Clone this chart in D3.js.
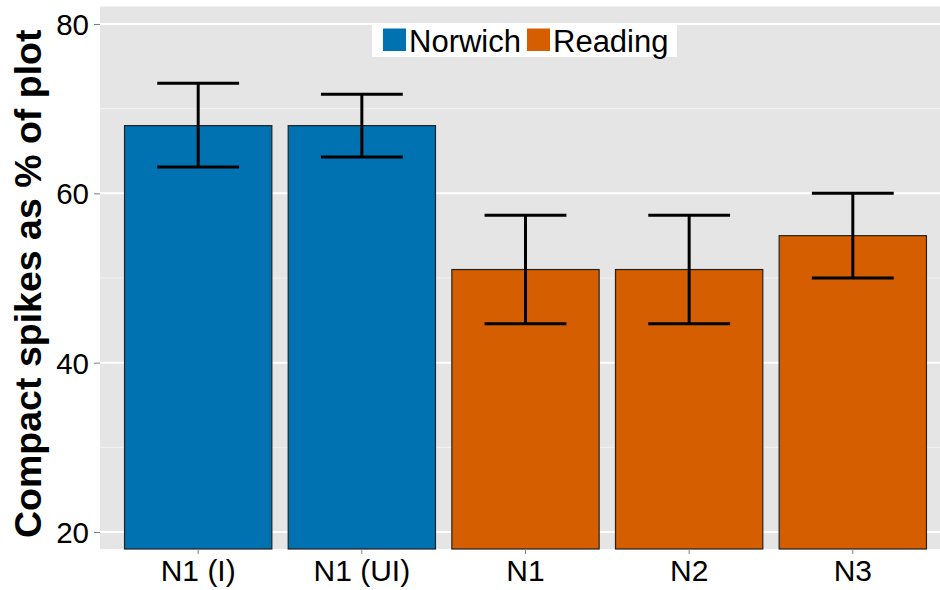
<!DOCTYPE html>
<html>
<head>
<meta charset="utf-8">
<script src="https://cdn.jsdelivr.net/npm/d3@7"></script>
<style>
  body { margin: 0; background: #fff; }
  text { font-family: "Liberation Sans", Arial, sans-serif; }
</style>
</head>
<body>
<div id="chart"></div>
<script>
// chart data
const categories = ["N1 (I)", "N1 (UI)", "N1", "N2", "N3"];
const sites = ["Norwich", "Norwich", "Reading", "Reading", "Reading"];
const values = [68, 68, 51, 51, 55];
const lower = [63.1, 64.3, 44.6, 44.6, 50];
const upper = [73.0, 71.7, 57.4, 57.4, 60];
const yTicks = [20, 40, 60, 80];
const yMinor = [30, 50, 70];
const legendKeys = ["Norwich", "Reading"];

const colors = {Norwich: "#0072B2", Reading: "#D55E00"};

const width = 940, height = 590;
const panel = {left: 100, top: 6.5, right: 951, bottom: 549};

const svg = d3.select("#chart").append("svg")
    .attr("width", width)
    .attr("height", height);

// scales
const x = d3.scaleBand()
    .domain(categories)
    .range([panel.left, panel.right])
    .paddingInner(0.1)
    .paddingOuter(0.15);

const y = d3.scaleLinear()
    .domain([17.99, 82.07])
    .range([panel.bottom, panel.top]);

// panel background
svg.append("rect")
    .attr("x", panel.left)
    .attr("y", panel.top)
    .attr("width", panel.right - panel.left)
    .attr("height", panel.bottom - panel.top)
    .attr("fill", "#E5E5E5");

// grid lines
svg.selectAll(".minor")
    .data(yMinor)
    .join("line")
    .attr("x1", panel.left).attr("x2", panel.right)
    .attr("y1", d => y(d)).attr("y2", d => y(d))
    .attr("stroke", "#F2F2F2")
    .attr("stroke-width", 1);

svg.selectAll(".major")
    .data(yTicks)
    .join("line")
    .attr("x1", panel.left).attr("x2", panel.right)
    .attr("y1", d => y(d)).attr("y2", d => y(d))
    .attr("stroke", "#fff")
    .attr("stroke-width", 2);

// bars
svg.selectAll(".bar")
    .data(categories)
    .join("rect")
    .attr("x", d => x(d))
    .attr("width", x.bandwidth())
    .attr("y", (d, i) => y(values[i]))
    .attr("height", (d, i) => panel.bottom - y(values[i]))
    .attr("fill", (d, i) => colors[sites[i]])
    .attr("stroke", "#222")
    .attr("stroke-width", 1.2);

// error bars
const capW = x.step() * 0.5;
const err = svg.selectAll(".err")
    .data(categories)
    .join("g")
    .attr("stroke", "#000")
    .attr("stroke-width", 3);

err.append("line")
    .attr("x1", d => x(d) + x.bandwidth() / 2)
    .attr("x2", d => x(d) + x.bandwidth() / 2)
    .attr("y1", (d, i) => y(lower[i]))
    .attr("y2", (d, i) => y(upper[i]));

err.append("line")
    .attr("x1", d => x(d) + x.bandwidth() / 2 - capW / 2)
    .attr("x2", d => x(d) + x.bandwidth() / 2 + capW / 2)
    .attr("y1", (d, i) => y(upper[i]))
    .attr("y2", (d, i) => y(upper[i]));

err.append("line")
    .attr("x1", d => x(d) + x.bandwidth() / 2 - capW / 2)
    .attr("x2", d => x(d) + x.bandwidth() / 2 + capW / 2)
    .attr("y1", (d, i) => y(lower[i]))
    .attr("y2", (d, i) => y(lower[i]));

// y axis
const yAxis = d3.axisLeft(y)
    .tickValues(yTicks)
    .tickSize(6)
    .tickPadding(5);

const yG = svg.append("g")
    .attr("transform", `translate(${panel.left},0)`)
    .call(yAxis);
yG.select(".domain").remove();
yG.selectAll(".tick line").attr("stroke", "#7F7F7F").attr("stroke-width", 1);
yG.selectAll(".tick text")
    .attr("font-size", 29.5)
    .attr("font-family", "Liberation Sans, Arial, sans-serif")
    .attr("fill", "#000")
    .attr("dy", "0.36em");

// x axis
const xAxis = d3.axisBottom(x)
    .tickSize(5)
    .tickPadding(4);

const xG = svg.append("g")
    .attr("transform", `translate(0,${panel.bottom})`)
    .call(xAxis);
xG.select(".domain").remove();
xG.selectAll(".tick line").attr("stroke", "#7F7F7F").attr("stroke-width", 1);
xG.selectAll(".tick text")
    .attr("font-size", 30)
    .attr("font-family", "Liberation Sans, Arial, sans-serif")
    .attr("fill", "#000")
    .attr("y", 32)
    .attr("dy", null);

// y title
svg.append("text")
    .attr("transform", `translate(41,${(panel.top + panel.bottom) / 2 + 6}) rotate(-90)`)
    .attr("text-anchor", "middle")
    .attr("font-size", 37.5)
    .attr("font-weight", "bold")
    .attr("fill", "#000")
    .text("Compact spikes as % of plot");

// legend
const legend = svg.append("g").attr("transform", "translate(372,23)");
legend.append("rect")
    .attr("width", 305)
    .attr("height", 34)
    .attr("fill", "#fff");

const keyX = [11, 155];
legendKeys.forEach((k, i) => {
    legend.append("rect")
        .attr("x", keyX[i])
        .attr("y", 5.5)
        .attr("width", 23)
        .attr("height", 22.5)
        .attr("fill", colors[k]);
    legend.append("text")
        .attr("x", keyX[i] + 26)
        .attr("y", 28.5)
        .attr("font-size", 31)
        .attr("fill", "#000")
        .text(k);
});
</script>
</body>
</html>
